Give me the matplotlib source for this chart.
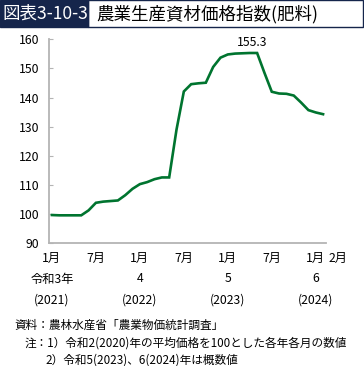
import numpy as np
import matplotlib
matplotlib.use("Agg")
import matplotlib.pyplot as plt
import matplotlib.patches as patches
import matplotlib.transforms as mtransforms

plt.rcParams['font.family'] = ['Noto Sans CJK JP', 'DejaVu Sans']

# monthly index, Jan 2021 .. Feb 2024 (2020 average = 100)
values = [99.7, 99.6, 99.6, 99.6, 99.6, 101.3, 103.9, 104.3, 104.5, 104.7, 106.5, 108.7,
          110.3, 111.0, 112.0, 112.6, 112.6, 129.0, 142.1, 144.6, 144.9, 145.1, 150.5, 153.7,
          154.8, 155.1, 155.2, 155.3, 155.3, 148.5, 142.0, 141.4, 141.3, 140.7, 138.3, 135.7,
          134.9, 134.3]
month_pos = [0, 6, 12, 18, 24, 30, 36, 37]
month_labels = ["1月", "7月", "1月", "7月", "1月", "7月", "1月", "2月"]
year_pos = [0, 12, 24, 36]
era_labels = ["令和3年", "4", "5", "6"]
year_labels = ["(2021)", "(2022)", "(2023)", "(2024)"]
yticks = [90, 100, 110, 120, 130, 140, 150, 160]

navy = "#15254b"
green = "#00742f"
grey = "#b4b4b4"

fig = plt.figure(figsize=(3.64, 3.66), dpi=100)
W, H = 364, 366

# title boxes
fig.patches.append(patches.Rectangle((88 / W, 1 - 27 / H), 274.5 / W, 26.5 / H, transform=fig.transFigure,
                                     facecolor="white", edgecolor=navy, linewidth=1.0))
fig.patches.append(patches.Rectangle((0, 1 - 27 / H), 88 / W, 27 / H, transform=fig.transFigure,
                                     facecolor=navy, edgecolor=navy, linewidth=1.0))
fig.text(2 / W, 1 - 14 / H, "図表3-10-3", color="white", fontsize=12.6, va="center", ha="left")
fig.text(96 / W, 1 - 14 / H, "農業生産資材価格指数(肥料)", color="black", fontsize=12.6,
         va="center", ha="left")

ax = fig.add_axes([49 / W, 1 - 243.3 / H, 277 / W, 204 / H])
x = np.arange(len(values))
ax.plot(x, values, color=green, linewidth=1.9, solid_joinstyle="miter")

imax = int(np.argmax(values))
ax.annotate(f"{values[imax]:.1f}", (x[imax], values[imax]), xytext=(2, 10),
            textcoords="offset pixels", ha="center", va="center", fontsize=8.8)

ax.set_xlim(-0.4, 37.4)
ax.set_ylim(90, 160)
ax.set_yticks(yticks)
ax.tick_params(axis="y", direction="in", length=3, width=0.8, color=grey, labelsize=8.8, pad=7)
ax.set_xticks(month_pos)
ax.set_xticklabels(month_labels)
ax.tick_params(axis="x", length=0, labelsize=8.8, pad=6)
lbl = ax.get_xticklabels()[-1]
lbl.set_transform(lbl.get_transform() + mtransforms.ScaledTranslation(15 / 100, 0, fig.dpi_scale_trans))

for s in ["top", "right"]:
    ax.spines[s].set_visible(False)
for s in ["left", "bottom"]:
    ax.spines[s].set_color(grey)
    ax.spines[s].set_linewidth(1.3)

trans = mtransforms.blended_transform_factory(ax.transData, fig.transFigure)
for p, e, yl in zip(year_pos, era_labels, year_labels):
    ax.text(p, 1 - 279 / H, e, transform=trans, ha="center", va="center", fontsize=8.8)
    ax.text(p, 1 - 300 / H, yl, transform=trans, ha="center", va="center", fontsize=8.8)

fig.text(14 / W, 1 - 325 / H, "資料：農林水産省「農業物価統計調査」", fontsize=8.4, va="center")
fig.text(25 / W, 1 - 343 / H, "注：1）令和2(2020)年の平均価格を100とした各年各月の数値", fontsize=8.4, va="center")
fig.text(45 / W, 1 - 360 / H, "2）令和5(2023)、6(2024)年は概数値", fontsize=8.4, va="center")

fig.savefig("out.png", dpi=100)
